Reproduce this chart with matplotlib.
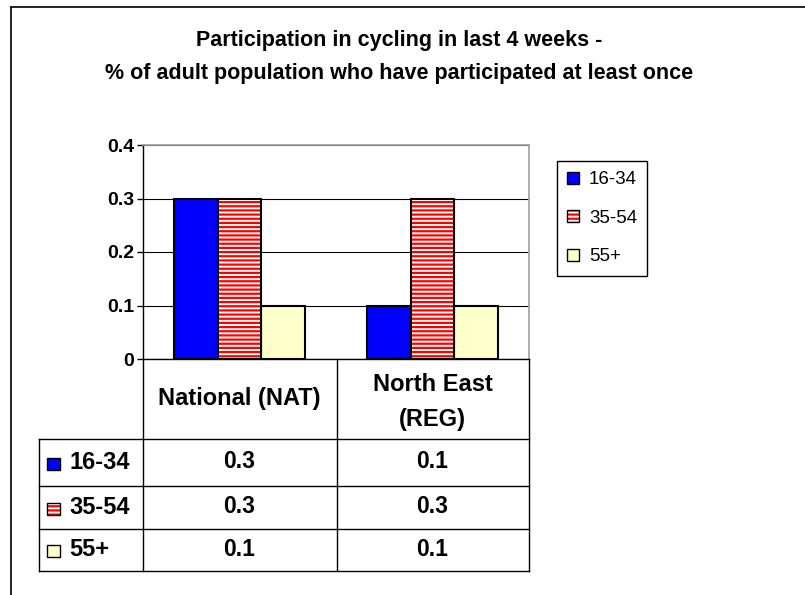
import numpy as np
import matplotlib.pyplot as plt
from matplotlib.patches import Patch, Rectangle
from matplotlib.legend_handler import HandlerTuple
from matplotlib.transforms import blended_transform_factory

plt.rcParams['font.family'] = ['Liberation Sans', 'DejaVu Sans']
plt.rcParams['hatch.color'] = 'red'
plt.rcParams['hatch.linewidth'] = 1.6

# data
regions = ['National (NAT)', 'North East\n(REG)']
age_groups = ['16-34', '35-54', '55+']
age_16_34 = [0.3, 0.1]
age_35_54 = [0.3, 0.3]
age_55_plus = [0.1, 0.1]
yticks = [0, 0.1, 0.2, 0.3, 0.4]
ytick_labels = ['0', '0.1', '0.2', '0.3', '0.4']

title = ("Participation in cycling in last 4 weeks -\n"
         "% of adult population who have participated at least once")

W, H = 805, 595
fig = plt.figure(figsize=(W / 100, H / 100), dpi=100)


def px_rect(x0, y0, x1, y1):
    # pixel box -> figure fraction
    return [x0 / W, 1 - y1 / H, (x1 - x0) / W, (y1 - y0) / H]


# overlay axes in pixel units for frame + table lines
ov = fig.add_axes([0, 0, 1, 1])
ov.set_xlim(0, W)
ov.set_ylim(H, 0)
ov.axis('off')

ax = fig.add_axes(px_rect(143, 145, 529, 359))
x = np.arange(len(regions))
w = 0.225
ax.bar(x - w, age_16_34, w, color='#0000ff', edgecolor='black', linewidth=1.5, zorder=3)
ax.bar(x, age_35_54, w, color='white', hatch='----', linewidth=0, zorder=3)
ax.bar(x, age_35_54, w, fill=False, edgecolor='black', linewidth=1.5, zorder=4)
ax.bar(x + w, age_55_plus, w, color='#ffffcc', edgecolor='black', linewidth=1.5, zorder=3)

ax.set_xlim(-0.5, len(regions) - 0.5)
ax.set_ylim(0, 0.4)
ax.set_yticks(yticks)
ax.set_yticklabels(ytick_labels, fontsize=14, fontweight='bold')
ax.set_xticks([])
ax.tick_params(axis='y', direction='out', length=4, width=1, pad=2.5)
ax.grid(axis='y', color='black', linewidth=0.8, zorder=0)
for s in ['top', 'right']:
    ax.spines[s].set_color('#a0a0a0')
    ax.spines[s].set_linewidth(1.2)
for s in ['left', 'bottom']:
    ax.spines[s].set_linewidth(1.0)

# title
fig.text(399 / W, 1 - 57 / H, title, ha='center', va='center',
         fontsize=15.5, fontweight='bold', linespacing=1.75)

# legend
swatches = [
    [dict(facecolor='#0000ff', edgecolor='black', linewidth=1)],
    [dict(facecolor='white', hatch='----', linewidth=0),
     dict(fill=False, edgecolor='black', linewidth=1)],
    [dict(facecolor='#ffffcc', edgecolor='black', linewidth=1)],
]
handles = [tuple(Patch(**st) for st in sw) for sw in swatches]
leg = fig.legend(handles, age_groups, loc='upper left',
                 bbox_to_anchor=(557 / W, 1 - 161 / H), borderaxespad=0,
                 fontsize=13.5, frameon=True, fancybox=False, framealpha=1,
                 edgecolor='black', handlelength=0.6, handleheight=0.6,
                 handletextpad=0.55, labelspacing=1.15, borderpad=0.55,
                 handler_map={tuple: HandlerTuple(ndivide=1, pad=0)})
leg.get_frame().set_linewidth(1.0)

# outer frame
ov.plot([11, 11], [H, 7], color='black', lw=1.2)
ov.plot([11, W], [7, 7], color='black', lw=1.2)

# data table below the plot
row_edges = [359, 439, 486, 529, 571]
col_edges = [39, 143, 337, 529]
for y in row_edges[1:]:
    ov.plot([col_edges[0], col_edges[-1]], [y, y], color='black', lw=1)
for xe in col_edges[1:]:
    ov.plot([xe, xe], [row_edges[0], row_edges[-1]], color='black', lw=1)
ov.plot([col_edges[0], col_edges[0]], [row_edges[1], row_edges[-1]], color='black', lw=1)

trans = blended_transform_factory(ax.transData, ov.transData)
for i, name in enumerate(regions):
    yh = (row_edges[0] + row_edges[1]) / 2 + (3 if '\n' in name else 0)
    ov.text(x[i], yh, name, transform=trans,
            ha='center', va='center', fontsize=17, fontweight='bold', linespacing=1.65)

series = [age_16_34, age_35_54, age_55_plus]
for r, (label, vals, sw) in enumerate(zip(age_groups, series, swatches)):
    yc = (row_edges[r + 1] + row_edges[r + 2]) / 2
    for i, v in enumerate(vals):
        ov.text(x[i], yc - 1, f'{v:g}', transform=trans, ha='center', va='center',
                fontsize=16.5, fontweight='bold')
    ov.text(69, yc, label, ha='left', va='center', fontsize=17, fontweight='bold')
    for st in sw:
        ov.add_patch(Rectangle((47, yc - 5), 13, 12, **st))

fig.savefig('out.png', dpi=100)
